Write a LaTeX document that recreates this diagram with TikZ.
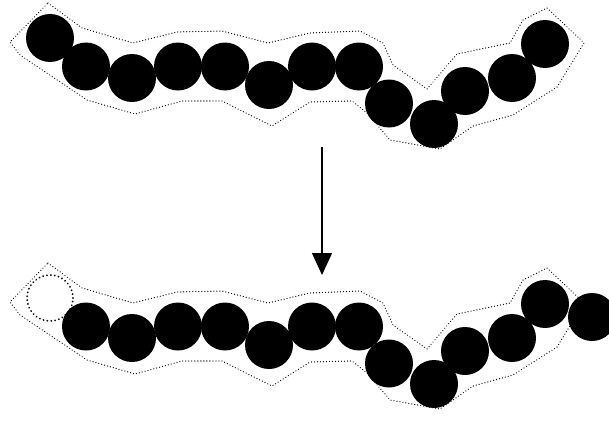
\documentclass[tikz,border=0pt]{standalone}
\usetikzlibrary{arrows.meta}
\begin{document}
\begin{tikzpicture}[x=1pt,y=-1pt,
  bead/.style={circle,fill=black,minimum size=48pt,inner sep=0pt,outer sep=0pt},
  ghost/.style={circle,draw=black,line width=2pt,line cap=round,dash pattern=on 0.01pt off 3.9pt,minimum size=46pt,inner sep=0pt},
  hullline/.style={draw=black,line width=1.3pt,line cap=round,dash pattern=on 0.01pt off 3pt,line join=round},
  arrowline/.style={draw=black,line width=1.3pt,-{Triangle[width=20pt,length=22pt]}}]
\useasboundingbox (0,0) rectangle (609,420);
\def\hullpath{(48,3) -- (82,28) -- (133,43) -- (177,32) -- (222,31) -- (268,43) -- (310,33) -- (360,31) -- (383,43) -- (393,65) -- (427,89) -- (457,54) -- (510,43) -- (523,20) -- (547,8) -- (584,43) -- (557,87) -- (513,115) -- (473,126) -- (440,149) -- (390,140) -- (367,113) -- (352,101) -- (310,102) -- (272,126) -- (222,101) -- (182,101) -- (135,114) -- (87,100) -- (20,55) -- (10,42) -- cycle}
% top chain
\path[hullline] \hullpath;
\foreach \n/\x/\y in {1/50/38,2/86/66.5,3/132/78,4/178/66.5,5/225/66.5,6/269/85,7/312/66.5,8/359/66.5,9/389/103.5,10/434/124,11/465/91,12/512/78,13/545/44}
  \node[bead] (t\n) at (\x,\y) {};
% bottom chain
\begin{scope}[shift={(0,260)}]
\path[hullline] \hullpath;
\end{scope}
\node[ghost] (b1) at (50,298) {};
\foreach \n/\x/\y in {2/86/326.5,3/132/338,4/178/326.5,5/225/326.5,6/269/345,7/312/326.5,8/359/326.5,9/389/363.5,10/434/384,11/465/351,12/512/338,13/545/304,14/592/317}
  \node[bead] (b\n) at (\x,\y) {};
% arrow
\coordinate (as) at (322,147);
\coordinate (ae) at (322,275);
\draw[arrowline] (as) -- (ae);
\end{tikzpicture}
\end{document}
